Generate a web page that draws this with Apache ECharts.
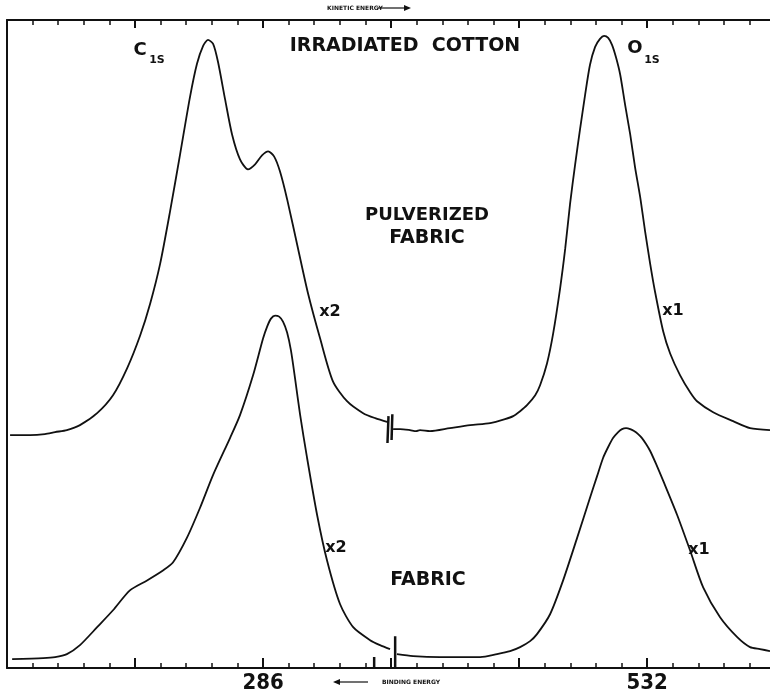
<!DOCTYPE html>
<html>
<head>
<meta charset="utf-8">
<title>Irradiated cotton XPS</title>
<script src="https://cdn.jsdelivr.net/npm/echarts/dist/echarts.min.js"></script>
<style>
  html, body { margin: 0; padding: 0; background: #fff; }
  #chart { width: 770px; height: 694px; }
</style>
</head>
<body>
<div id="chart"></div>
<script>
// x is in chart divisions (one small tick = 1), y in arbitrary intensity units
const majorTicks = [5, 10, 15, 20, 25]
const labelTicks = [10, 25]
const labelTexts = ['286', '532']

// pulverized fabric, C1s window
const pulvC1s = [
  [0.12, 234], [0.90, 234], [1.48, 235], [1.88, 237], [2.34, 239], [2.85, 244],
  [3.52, 256], [4.14, 274], [4.69, 301], [5.20, 334], [5.59, 366], [5.98, 406],
  [6.37, 459], [6.76, 516], [7.15, 574], [7.42, 607], [7.66, 625], [7.85, 631],
  [8.05, 627], [8.24, 609], [8.52, 571], [8.79, 536], [9.10, 511], [9.41, 501],
  [9.69, 506], [9.96, 515], [10.20, 519], [10.43, 514], [10.66, 499], [10.94, 471],
  [11.37, 421], [11.76, 376], [12.23, 331], [12.73, 288], [13.28, 268], [13.91, 256],
  [14.38, 251], [14.88, 247]
]
// pulverized fabric, O1s window
const pulvO1s = [
  [15.08, 240], [15.35, 240], [15.74, 239], [15.98, 238], [16.13, 239],
  [16.52, 238], [17.30, 241], [18.09, 244], [18.87, 246], [19.45, 250], [19.77, 253],
  [20.04, 258], [20.31, 264], [20.63, 274], [20.82, 284], [21.09, 306], [21.33, 336],
  [21.60, 381], [21.80, 421], [21.99, 466], [22.19, 506], [22.38, 541], [22.58, 576],
  [22.77, 606], [22.97, 624], [23.16, 632], [23.32, 635], [23.48, 633], [23.63, 626],
  [23.79, 613], [23.95, 596], [24.14, 566], [24.34, 536], [24.53, 503], [24.73, 473],
  [24.92, 439], [25.12, 406], [25.31, 378], [25.63, 338], [25.90, 316], [26.29, 294],
  [26.68, 277], [26.95, 268], [27.58, 257], [28.36, 248], [29.02, 241], [29.80, 239]
]
// fabric, C1s window
const fabC1s = [
  [0.20, 9], [1.41, 10], [1.88, 11], [2.34, 14], [2.85, 23], [3.52, 41], [4.14, 58],
  [4.80, 78], [5.47, 88], [6.09, 98], [6.48, 106], [7.03, 131], [7.54, 161], [8.05, 194],
  [8.71, 231], [9.10, 254], [9.61, 294], [10.00, 331], [10.16, 343], [10.31, 351],
  [10.47, 354], [10.63, 353], [10.78, 348], [10.94, 337], [11.09, 319], [11.25, 291],
  [11.45, 254], [11.72, 211], [12.11, 154], [12.50, 108], [13.01, 64], [13.52, 41],
  [14.18, 28], [14.57, 23], [14.96, 19]
]
// fabric, O1s window
const fabO1s = [
  [15.23, 14], [15.86, 12], [16.91, 11], [18.48, 11], [19.14, 14], [19.65, 17], [20.04, 21],
  [20.43, 27], [20.70, 34], [21.21, 54], [21.72, 88], [22.27, 131], [22.77, 171], [23.05, 193],
  [23.28, 211], [23.48, 222], [23.67, 231], [23.87, 237], [24.02, 240], [24.18, 241],
  [24.34, 240], [24.49, 238], [24.65, 235], [24.80, 231], [24.96, 225], [25.12, 218],
  [25.35, 205], [25.63, 188], [26.17, 154], [26.68, 118], [27.19, 81], [27.85, 51],
  [28.52, 31], [29.02, 21], [29.41, 19], [29.80, 17]
]
// recorder break marks between the two windows
const breakMarks = [
  [14.90, 253], [14.86, 226], '-', [15.05, 255], [15.02, 229], '-',
  [15.16, 32], [15.16, 0], '-', [14.34, 11], [14.34, 0]
]

const chart = echarts.init(document.getElementById('chart'))
const ink = '#111'
const bold = (size) => `bold ${size}px "DejaVu Sans", sans-serif`

function curve(data) {
  return {
    type: 'line', data, showSymbol: false, smooth: 0.25,
    lineStyle: { color: ink, width: 1.8 }, silent: true
  }
}

function text(str, x, y, size) {
  return {
    type: 'text', x, y, silent: true,
    style: { text: str, font: bold(size), fill: ink, align: 'center', verticalAlign: 'middle' }
  }
}

const xCommon = {
  type: 'value', min: 0, max: 29.8, interval: 5,
  axisLine: { show: true, lineStyle: { color: ink, width: 2 } },
  axisTick: { show: true, inside: true, length: 10, customValues: majorTicks, lineStyle: { color: ink, width: 2 } },
  minorTick: { show: true, splitNumber: 5, length: 5, lineStyle: { color: ink, width: 1.5 } },
  splitLine: { show: false },
  minorSplitLine: { show: false }
}

const options = {
  backgroundColor: '#fff',
  animation: false,
  grid: { left: 7, right: 0, top: 20, bottom: 23 },
  xAxis: [
    {
      ...xCommon, position: 'bottom',
      axisLabel: {
        color: ink, fontSize: 22, fontWeight: 'bold', fontFamily: 'DejaVu Sans Condensed', margin: 4,
        customValues: labelTicks,
        formatter: (v) => {
          const i = labelTicks.indexOf(v)
          return i >= 0 ? labelTexts[i] : ''
        }
      }
    },
    { ...xCommon, position: 'top', axisTick: { ...xCommon.axisTick, length: 8 }, axisLabel: { show: false } }
  ],
  yAxis: {
    type: 'value', min: 0, max: 651,
    axisLine: { show: true, lineStyle: { color: ink, width: 2 } },
    axisTick: { show: false }, axisLabel: { show: false }, splitLine: { show: false }
  },
  series: [
    curve(pulvC1s), curve(pulvO1s), curve(fabC1s), curve(fabO1s),
    { ...curve(breakMarks), smooth: false, connectNulls: false, lineStyle: { color: ink, width: 2.5 } }
  ],
  graphic: [
    text('KINETIC ENERGY', 355, 8, 6),
    { type: 'line', silent: true, shape: { x1: 378, y1: 8, x2: 406, y2: 8 }, style: { stroke: ink, lineWidth: 1.2 } },
    { type: 'polygon', silent: true, shape: { points: [[404, 5], [411, 8], [404, 11]] }, style: { fill: ink } },
    text('IRRADIATED  COTTON', 405, 46, 19),
    text('C', 140, 50, 18),
    text('1S', 157, 60, 11),
    text('O', 635, 48, 18),
    text('1S', 652, 60, 11),
    text('PULVERIZED', 427, 215, 18),
    text('FABRIC', 427, 238, 19),
    text('x2', 330, 312, 16),
    text('x1', 673, 311, 16),
    text('x2', 336, 548, 16),
    text('x1', 699, 550, 16),
    text('FABRIC', 428, 580, 19),
    text('BINDING ENERGY', 411, 682, 6),
    { type: 'line', silent: true, shape: { x1: 337, y1: 682, x2: 368, y2: 682 }, style: { stroke: ink, lineWidth: 1.2 } },
    { type: 'polygon', silent: true, shape: { points: [[340, 679], [333, 682], [340, 685]] }, style: { fill: ink } }
  ]
}

chart.setOption(options)
</script>
</body>
</html>
